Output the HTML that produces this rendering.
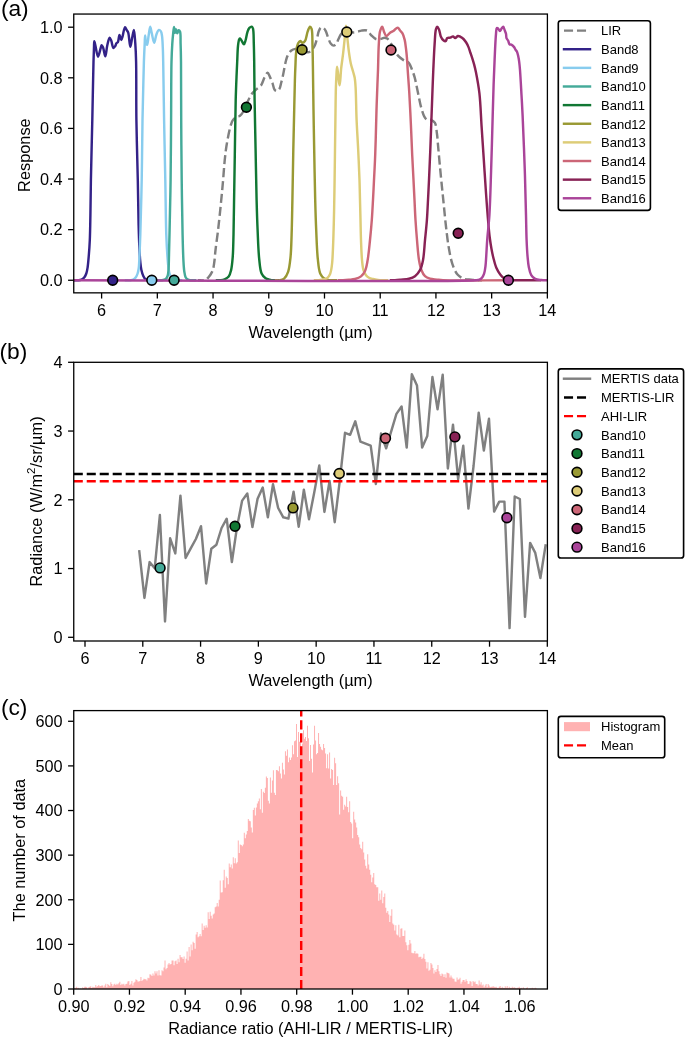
<!DOCTYPE html>
<html><head><meta charset="utf-8"><title>Figure</title>
<style>html,body{margin:0;padding:0;background:#fff;}body{width:685px;height:1038px;overflow:hidden;}svg{display:block;will-change:transform;}
text{font-family:"Liberation Sans",sans-serif;}</style></head>
<body>
<svg width="685" height="1038" viewBox="0 0 685 1038" font-family="'Liberation Sans', sans-serif" fill="#000"><rect width="100%" height="100%" fill="#fff"/><defs>
<clipPath id="clipA"><rect x="73.75" y="14.05" width="473.65" height="278.8"/></clipPath>
<clipPath id="clipB"><rect x="73.75" y="362.3" width="473.65" height="278.7"/></clipPath>
<clipPath id="clipC"><rect x="73.75" y="710.6" width="473.65" height="278.4"/></clipPath>
</defs>
<g clip-path="url(#clipA)">
<path d="M198,280.25 C200,280.25 202.45,280.51 204,280.25 C205.03,280.08 205.79,279.85 206.5,279.4 C207.18,278.96 207.6,278.3 208.2,277.6 C208.95,276.72 209.87,275.66 210.6,274.5 C211.41,273.22 212.22,271.91 212.8,270.2 C213.56,267.95 213.88,265 214.3,262 C214.81,258.41 214.98,254.67 215.5,250.1 C216.21,243.88 217.41,235.72 218.3,228.1 C219.25,219.89 220.2,210.52 221,202.5 C221.71,195.4 222.3,189.25 222.9,182.4 C223.53,175.23 224.03,166.98 224.7,160.4 C225.25,155.03 225.74,150.66 226.5,145.8 C227.27,140.9 228.42,135.02 229.3,131.1 C229.89,128.45 230.33,126.45 231,124.5 C231.56,122.86 231.97,121.36 232.9,120.1 C233.84,118.82 235.32,117.62 236.6,116.9 C237.7,116.28 238.93,116.56 240,115.8 C241.46,114.76 242.76,112.64 244,110.5 C245.6,107.73 246.8,103.34 248.3,100.3 C249.58,97.7 250.88,95.16 252.3,93.3 C253.41,91.84 254.49,91.01 255.8,89.8 C257.34,88.39 259.59,87.28 261,85.4 C262.58,83.29 263.28,79.77 264.5,77.5 C265.5,75.66 266.68,72.67 267.6,72.7 C268.42,72.72 269.08,75.13 269.8,76.6 C270.68,78.41 271.61,80.65 272.4,82.8 C273.22,85.04 273.55,88.47 274.6,89.8 C275.22,90.58 276.06,91.16 276.8,91.1 C277.66,91.03 278.71,89.95 279.4,88.9 C280.34,87.46 280.63,84.91 281.2,82.8 C281.8,80.55 282.38,78.2 282.9,75.8 C283.45,73.28 283.88,70.57 284.4,68 C284.91,65.47 285.41,62.68 286,60.5 C286.47,58.77 286.75,57.43 287.5,55.9 C288.35,54.16 289.56,51.88 291,50.7 C292.26,49.68 293.89,49.08 295.4,48.9 C296.89,48.72 298.54,49.2 300,49.6 C301.4,49.98 302.66,50.76 304,51.2 C305.29,51.62 306.74,52.25 307.9,52.2 C308.86,52.16 309.72,51.81 310.5,51.3 C311.37,50.73 312.1,49.75 312.8,48.8 C313.58,47.75 314.26,46.64 314.9,45.2 C315.75,43.27 316.45,40.47 317.1,38.1 C317.74,35.77 318,32.98 318.8,31.1 C319.4,29.67 320.07,28 321,27.6 C321.74,27.28 322.85,27.62 323.6,28.1 C324.49,28.66 325.14,29.86 325.8,31.1 C326.67,32.75 327.19,35.26 328,37.3 C328.82,39.36 329.55,41.97 330.7,43.4 C331.56,44.47 332.73,45.59 333.7,45.6 C334.59,45.61 335.56,44.68 336.3,43.8 C337.25,42.66 337.71,40.62 338.5,39 C339.33,37.29 340.09,34.93 341.2,33.8 C342.02,32.97 343.02,32.6 344,32.3 C344.96,32.01 345.93,32.01 347,32 C348.24,31.98 349.71,32.21 351,32.3 C352.21,32.38 353.34,32.61 354.5,32.5 C355.68,32.39 356.84,31.92 358,31.6 C359.14,31.28 360.1,30.79 361.4,30.6 C363.06,30.36 365.56,29.85 367.2,30.6 C368.93,31.39 369.91,34.06 371.4,35.5 C372.79,36.84 374.43,38.47 375.8,39 C376.75,39.37 377.55,39.25 378.5,39.2 C379.57,39.15 380.85,38.85 381.9,38.6 C382.83,38.38 383.62,37.8 384.5,37.8 C385.39,37.8 386.3,37.98 387.2,38.6 C388.63,39.59 390.2,42.31 391.5,44.3 C392.8,46.3 393.84,48.6 395,50.6 C396.07,52.45 396.83,54.34 398.2,55.9 C399.63,57.53 401.67,58.93 403.5,60.1 C405.21,61.2 407.42,61.37 408.8,62.8 C410.36,64.42 411.04,67.34 412,69.7 C412.98,72.1 413.85,74.46 414.6,77.1 C415.44,80.05 416,83.34 416.7,86.6 C417.44,90.03 418.17,93.76 418.9,97.2 C419.6,100.48 420.12,103.63 421,106.8 C421.89,110 422.96,114.05 424.2,116.3 C425,117.74 425.68,118.88 426.8,119.5 C427.94,120.13 429.69,119.5 431,120 C432.37,120.53 433.85,121.24 434.8,122.7 C436.24,124.93 436.37,129.67 436.9,133.3 C437.45,137.09 437.61,140.75 438,145 C438.47,150.07 438.95,155.77 439.5,161.7 C440.13,168.46 440.88,176.17 441.6,183.4 C442.32,190.63 443.07,197.88 443.8,205.1 C444.53,212.31 445.15,219.5 446,226.7 C446.85,233.93 447.71,241.75 448.9,248.4 C449.93,254.14 450.87,259.67 452.5,264.3 C453.86,268.17 455.31,272.01 457.5,274.5 C459.31,276.56 461.66,277.94 464,278.8 C466.27,279.64 469.13,279.44 471.3,279.7 C473.04,279.91 474.33,280.15 476,280.25 C477.88,280.36 480,280.25 482,280.25" fill="none" stroke="#808080" stroke-width="2.44" stroke-linejoin="round" stroke-dasharray="9.06,3.92" stroke-linecap="butt" stroke-dashoffset="3.29"/>
<path d="M71.75,280.25 C74,280.25 76.71,280.44 78.5,280.25 C79.71,280.12 80.57,280.03 81.5,279.6 C82.48,279.14 83.44,278.41 84.2,277.5 C85.08,276.45 85.75,275.01 86.3,273.5 C86.94,271.74 87.23,269.86 87.6,267.5 C88.12,264.2 88.45,259.75 88.8,255.5 C89.2,250.71 89.54,245.94 89.8,240.2 C90.13,232.85 90.23,224.09 90.4,215 C90.6,204.29 90.65,193.23 90.9,180 C91.23,162.68 91.92,137.32 92.3,120 C92.59,106.77 92.78,95.47 93,85 C93.18,76.47 93.31,68.67 93.5,61.8 C93.65,56.31 93.84,50.78 94,47 C94.1,44.65 94.03,41.33 94.3,41.3 C94.55,41.28 95.04,44.11 95.5,46 C96.19,48.84 97.09,56.67 98,56.7 C98.81,56.73 99.94,50.52 100.6,48.4 C101.01,47.08 101.15,45.27 101.6,45.2 C101.98,45.14 102.56,46.24 103,47.2 C103.86,49.09 104.61,56.32 105.3,56.3 C106.06,56.27 106.5,48.52 107.3,45.2 C107.97,42.43 108.79,37.79 109.6,37.7 C110.12,37.64 110.69,39.3 111.2,40.5 C111.99,42.36 112.46,47.77 113.4,48 C113.96,48.14 114.8,46.77 115.3,46 C115.81,45.21 115.9,43.98 116.4,43.3 C116.81,42.75 117.48,42.78 117.9,42.1 C118.72,40.78 118.88,35.04 119.5,35 C120.04,34.97 120.75,40.11 121.3,40.1 C121.81,40.09 122.2,37.49 122.7,35.8 C123.4,33.41 124.16,27.21 125,27.1 C125.51,27.03 126.06,28.98 126.6,29.9 C127.13,30.81 127.73,31.28 128.2,32.6 C129.2,35.42 129.56,46.78 130.3,46.8 C130.88,46.82 131.49,40.96 132.1,38.1 C132.69,35.32 133.4,29.87 133.9,29.9 C134.54,29.94 134.94,38.78 135.3,43.7 C135.71,49.32 135.91,54.05 136.1,61.8 C136.44,75.69 136.12,100.45 136.4,120 C136.68,139.85 137.42,161.44 137.8,180 C138.13,196.08 138.26,212.19 138.6,225 C138.86,234.55 139.15,243.18 139.5,250 C139.74,254.73 139.93,258.41 140.3,262 C140.6,264.94 140.84,267.56 141.4,270 C141.89,272.14 142.54,274.29 143.3,275.9 C143.89,277.14 144.45,278.3 145.3,279 C146.06,279.63 147.15,279.9 148,280.1 C148.7,280.27 149.18,280.22 150,280.25 C151.29,280.3 153.33,280.25 155,280.25" fill="none" stroke="#332288" stroke-width="2.44" stroke-linejoin="round" stroke-linecap="square"/>
<path d="M126,280.25 C127.5,280.25 129.1,280.49 130.5,280.25 C131.79,280.03 133.13,279.62 134.1,279 C134.94,278.46 135.54,277.74 136.1,276.9 C136.74,275.95 137.19,274.77 137.6,273.5 C138.09,272.01 138.41,270.57 138.7,268.5 C139.16,265.18 139.26,260.25 139.5,255.4 C139.8,249.35 140.03,243.45 140.3,235 C140.75,221.12 141.34,198.73 141.7,180 C142.08,160.44 142.19,137.32 142.5,120 C142.74,106.77 143.04,95.47 143.3,85 C143.51,76.47 143.65,69.06 143.9,61.8 C144.12,55.36 144.47,48.47 144.7,43.6 C144.85,40.33 144.85,35.41 145.1,35.4 C145.35,35.39 145.56,42.4 146.2,43.8 C146.46,44.36 146.83,44.88 147.1,44.8 C147.8,44.59 148.09,38.81 148.6,35.8 C149.12,32.77 149.62,26.72 150.2,26.7 C150.7,26.68 151.2,30.97 151.8,33.4 C152.51,36.29 153.4,42.9 154.2,42.9 C154.97,42.9 155.55,36.55 156.5,34.2 C157.2,32.46 158.02,30.09 158.9,29.9 C159.53,29.77 160.4,30.65 160.9,31.4 C161.57,32.41 161.71,33.96 162,35.8 C162.47,38.77 162.6,43.48 162.8,47.6 C163.02,52.11 163.06,55.46 163.2,61.8 C163.48,74.63 163.75,100.45 164.1,120 C164.45,139.85 164.93,160.43 165.3,180 C165.66,198.73 165.81,221 166.3,235 C166.61,243.66 166.97,249.98 167.4,256 C167.73,260.56 168.01,264.62 168.5,268 C168.86,270.51 169.1,272.73 169.8,274.5 C170.34,275.87 171.06,276.99 171.9,277.9 C172.65,278.71 173.6,279.41 174.5,279.8 C175.3,280.14 176.07,280.17 177,280.25 C178.17,280.35 179.67,280.25 181,280.25" fill="none" stroke="#88CCEE" stroke-width="2.44" stroke-linejoin="round" stroke-linecap="square"/>
<path d="M158,280.25 C159.33,280.25 160.7,280.46 162,280.25 C163.3,280.04 164.86,279.75 165.8,279 C166.68,278.29 167.16,277.22 167.6,276 C168.18,274.39 168.28,272.46 168.5,270 C168.85,266.13 168.84,260.64 169,255 C169.21,247.73 169.39,239.76 169.6,230 C169.9,216.19 170.35,197.43 170.6,180 C170.87,160.91 170.95,139.85 171.1,120 C171.25,100.45 171.15,75.71 171.5,61.8 C171.7,54.02 171.97,48.67 172.3,43.6 C172.54,39.95 172.79,37.12 173.1,34.2 C173.37,31.64 173.66,27.01 174,27 C174.3,26.99 174.62,32.78 175,32.8 C175.3,32.82 175.64,29.31 176,29.3 C176.4,29.29 176.84,33.38 177.3,33.4 C177.71,33.42 178.06,30.31 178.6,30.2 C179.01,30.12 179.64,30.8 180,31.6 C180.88,33.57 180.44,39.18 180.6,43.6 C180.8,49.04 180.9,54.02 181,61.8 C181.18,75.72 181.08,100.45 181.2,120 C181.32,139.85 181.46,160.44 181.7,180 C181.93,198.73 182.24,220.24 182.6,235 C182.84,244.96 183.03,253.27 183.4,260 C183.65,264.57 183.82,268.35 184.3,271.5 C184.64,273.74 184.89,275.8 185.6,277.2 C186.1,278.18 186.7,278.89 187.5,279.4 C188.32,279.93 189.39,280.1 190.5,280.25 C191.84,280.44 193.5,280.25 195,280.25" fill="none" stroke="#44AA99" stroke-width="2.44" stroke-linejoin="round" stroke-linecap="square"/>
<path d="M217,280.25 C218.33,280.25 219.71,280.42 221,280.25 C222.24,280.09 223.4,279.83 224.6,279.3 C225.97,278.69 227.65,277.92 228.7,276.6 C229.95,275.03 230.47,272.67 231.1,270.1 C231.96,266.59 232.31,262.16 232.7,257.3 C233.21,250.9 233.29,242.98 233.5,235 C233.74,225.74 233.82,216.27 234,205 C234.24,190.45 234.52,172.06 234.8,155 C235.09,137.1 235.31,114.76 235.7,100 C235.96,90.04 236.31,82.01 236.6,75 C236.81,69.9 236.98,66.4 237.2,61.8 C237.44,56.77 237.53,50.14 238,46 C238.31,43.28 238.58,40.41 239.2,39.3 C239.46,38.83 239.77,38.46 240.1,38.5 C240.65,38.57 241.38,40.34 242,41.3 C242.65,42.3 243.33,44.45 243.9,44.4 C244.51,44.35 245,42.08 245.5,40.5 C246.23,38.2 246.69,34.09 247.5,31.8 C248.06,30.2 248.55,28.76 249.4,27.9 C250.07,27.23 251.19,26.52 251.8,26.7 C252.37,26.87 252.68,27.67 253,28.7 C253.8,31.32 253.6,38.38 253.8,43.6 C254.02,49.36 254.08,54.62 254.2,61.8 C254.37,72.2 254.39,86.41 254.6,100 C254.84,115.55 255.27,133.33 255.6,150 C255.93,166.67 256.21,185.45 256.6,200 C256.9,211.27 257.16,220.1 257.6,230 C258.03,239.73 258.32,250.93 259.2,258.9 C259.83,264.58 260.05,270.01 261.6,273.4 C262.61,275.61 264.11,277.17 265.6,278.2 C266.83,279.05 268.31,279.25 269.6,279.6 C270.77,279.91 271.75,280.13 273,280.25 C274.5,280.39 276.33,280.25 278,280.25" fill="none" stroke="#117733" stroke-width="2.44" stroke-linejoin="round" stroke-linecap="square"/>
<path d="M276,280.25 C277.33,280.25 278.68,280.51 280,280.25 C281.38,279.98 282.89,279.64 284.1,278.6 C285.72,277.21 287.08,274.61 288.1,271.8 C289.49,267.97 289.93,262.67 290.5,257.3 C291.21,250.68 291.3,243.27 291.6,235 C291.97,224.64 292.14,212.7 292.4,200 C292.71,184.82 292.98,165.74 293.3,150 C293.59,135.92 293.92,122.38 294.2,110 C294.45,99.28 294.66,88.05 294.9,80 C295.06,74.58 295.18,71.09 295.4,66.4 C295.64,61.35 295.68,54.89 296.3,50.7 C296.72,47.85 297.13,45.31 298,43.6 C298.59,42.43 299.43,41.07 300.2,41 C300.9,40.94 301.62,42.77 302.4,42.8 C303.22,42.83 304.26,42.03 305,41 C306.31,39.17 306.71,34.02 307.7,31.4 C308.42,29.49 309.25,26.67 310,26.6 C310.54,26.55 311.18,27.62 311.6,28.8 C312.66,31.78 312.28,40.26 312.5,46.3 C312.73,52.77 312.77,58.42 312.9,66.4 C313.1,78.15 313.28,95.78 313.5,110 C313.71,123.62 313.94,135.92 314.2,150 C314.5,165.74 314.81,185.45 315.2,200 C315.5,211.27 315.76,220.1 316.2,230 C316.63,239.73 316.92,250.93 317.8,258.9 C318.43,264.58 318.67,269.96 320.2,273.4 C321.21,275.67 322.73,277.31 324.2,278.4 C325.38,279.27 326.79,279.6 328,279.9 C329.04,280.16 329.87,280.18 331,280.25 C332.45,280.33 334.33,280.25 336,280.25" fill="none" stroke="#999933" stroke-width="2.44" stroke-linejoin="round" stroke-linecap="square"/>
<path d="M315,280.25 C316.33,280.25 317.6,280.38 319,280.25 C320.58,280.1 322.56,279.7 324,279.3 C325.14,278.98 326.09,278.88 327,278.2 C328.14,277.35 329.23,275.91 330,274.2 C331.05,271.89 331.43,268.61 331.9,265.2 C332.5,260.81 332.63,255.42 332.9,250 C333.21,243.79 333.4,236.67 333.6,230 C333.8,223.33 333.95,217.34 334.1,210 C334.29,201.01 334.45,190 334.6,180 C334.75,170 334.87,160 335,150 C335.13,140 335.25,130.21 335.4,120 C335.55,109.36 335.64,95.89 335.9,87.4 C336.06,81.96 336.26,77.79 336.5,74 C336.68,71.2 336.83,66.71 337.1,66.7 C337.39,66.69 337.89,72.4 338.2,75 C338.48,77.3 338.6,79.64 338.9,81.5 C339.13,82.91 339.44,85.22 339.7,85.2 C340.25,85.17 340.6,73.64 341.2,68.2 C341.75,63.17 342.53,58.53 343.1,53.7 C343.66,48.9 344.11,44.02 344.6,39.3 C345.08,34.73 345.52,25.8 346,25.8 C346.48,25.8 347.01,34.89 347.5,39.3 C347.97,43.55 348.34,47.72 348.9,51.8 C349.44,55.75 350.01,59.84 350.8,63.4 C351.48,66.5 352.5,69.41 353.2,72 C353.77,74.12 354.32,75.61 354.7,77.8 C355.19,80.58 355.34,83.25 355.6,87.4 C356.07,95.04 356.15,109.36 356.6,120 C357.03,130.21 357.72,140 358.2,150 C358.68,160 359.19,171.01 359.5,180 C359.75,187.34 359.83,193.33 360,200 C360.17,206.67 360.33,213.33 360.5,220 C360.67,226.67 360.75,233.33 361,240 C361.25,246.67 361.46,254.46 362,260 C362.39,263.98 362.64,267.45 363.5,270.2 C364.14,272.22 364.97,273.9 366,275.2 C366.86,276.29 367.86,277.07 369,277.7 C370.18,278.35 371.58,278.64 373,279 C374.56,279.39 376.42,279.69 378,279.9 C379.4,280.09 380.59,280.19 382,280.25 C383.57,280.32 385.33,280.25 387,280.25" fill="none" stroke="#DDCC77" stroke-width="2.44" stroke-linejoin="round" stroke-linecap="square"/>
<path d="M339,280.25 C340.33,280.25 341.53,280.3 343,280.25 C344.8,280.18 347,280.01 349,279.8 C351,279.59 353.04,279.54 355,279 C357.04,278.43 359.34,277.72 361,276.4 C362.68,275.06 363.96,273.2 365,271 C366.29,268.28 366.77,264.97 367.5,261 C368.55,255.31 369.28,246.92 370,240 C370.7,233.26 371.3,226.67 371.8,220 C372.3,213.34 372.63,206.67 373,200 C373.37,193.33 373.67,186.67 374,180 C374.33,173.33 374.72,166.67 375,160 C375.28,153.33 375.47,147.34 375.7,140 C375.98,131.01 376.2,119.54 376.5,110 C376.77,101.29 377.12,92.27 377.4,85 C377.61,79.36 377.8,75.67 378,70 C378.26,62.58 378.34,51.45 378.8,44.3 C379.13,39.17 379.18,34.24 380.1,31.1 C380.66,29.21 381.65,26.75 382.3,26.8 C382.99,26.85 383.39,30.41 384.1,32 C384.74,33.45 385.36,35.84 386.3,36 C387.25,36.17 388.58,33.74 389.8,32.9 C390.92,32.13 392.11,31.87 393.3,31.1 C394.73,30.18 396.53,27.47 397.7,27.6 C398.62,27.7 399.13,29.38 399.9,30.3 C400.72,31.28 401.77,32.02 402.5,33.3 C403.47,35 404.13,37.52 404.7,39.9 C405.34,42.6 405.63,45.77 406,48.7 C406.36,51.6 406.64,54.23 406.9,57.4 C407.22,61.21 407.38,65.17 407.7,70 C408.13,76.52 408.8,84.71 409.3,93 C409.88,102.74 410.41,114.34 410.9,124.8 C411.38,135 411.74,145.41 412.2,155 C412.61,163.73 413.1,172.13 413.5,180 C413.86,187.04 414.17,193.33 414.5,200 C414.83,206.67 415.08,213.34 415.5,220 C415.92,226.67 416.42,233.34 417,240 C417.58,246.67 418.05,254.47 419,260 C419.69,264 420.34,267.32 421.5,270.2 C422.45,272.54 423.47,274.76 425,276.2 C426.37,277.49 428.14,278.13 430,278.7 C432.09,279.34 434.76,279.33 437,279.6 C439.08,279.85 439.9,280.08 443,280.25 C453.47,280.82 489,280.25 512,280.25" fill="none" stroke="#CC6677" stroke-width="2.44" stroke-linejoin="round" stroke-linecap="square"/>
<path d="M391,280.25 C392.33,280.25 393.53,280.32 395,280.25 C396.8,280.17 398.86,279.93 401,279.7 C403.48,279.43 406.56,279.35 409,278.7 C411.19,278.12 413.23,277.51 415,276.2 C416.94,274.77 418.71,272.61 420,270.2 C421.5,267.41 422.22,264.15 423,260.2 C424.09,254.7 424.35,246.79 425,240.1 C425.65,233.43 426.4,226.78 426.9,220.1 C427.4,213.41 427.65,206.69 428,200 C428.35,193.33 428.66,187.34 429,180 C429.42,171.01 429.88,160.44 430.3,150 C430.75,138.59 431.2,124.97 431.6,114.2 C431.93,105.35 432.2,97.68 432.5,90 C432.77,83.02 432.98,77.08 433.3,70 C433.66,61.97 434.09,51.7 434.6,44.3 C434.99,38.66 435.13,32.29 435.9,29.4 C436.24,28.14 436.6,26.85 437.1,26.8 C437.63,26.75 438.46,28.26 439,29.4 C439.81,31.11 439.94,34.46 440.8,36.4 C441.5,37.96 442.44,39.51 443.4,40.3 C444.09,40.86 444.99,41.42 445.6,41.2 C446.35,40.94 446.46,38.67 447.3,38.1 C448.09,37.56 449.44,37.99 450.4,37.7 C451.33,37.42 452.19,36.32 453,36.4 C453.79,36.48 454.44,38.11 455.2,38.1 C456.03,38.09 456.87,36.18 457.8,36 C458.65,35.83 459.61,36.36 460.5,36.8 C461.52,37.31 462.58,38.11 463.5,39 C464.5,39.98 465.4,41.22 466.2,42.5 C467.04,43.85 467.72,45.29 468.4,46.9 C469.17,48.74 469.83,51.04 470.5,53 C471.13,54.83 471.72,56.47 472.3,58.3 C472.92,60.26 473.53,62.25 474.1,64.4 C474.73,66.79 475.26,68.82 475.9,72 C476.96,77.28 478.49,85.31 479.4,93.2 C480.53,103.03 480.87,115.41 481.6,126.5 C482.33,137.58 483.07,148.62 483.8,159.7 C484.53,170.79 485.24,182.29 486,193 C486.71,203 487.48,213.76 488.2,222 C488.74,228.12 489.19,233.17 489.8,238 C490.31,242.02 490.87,245.58 491.5,249 C492.05,252.02 492.56,254.57 493.3,257.5 C494.1,260.71 494.92,264.51 496.2,267.5 C497.35,270.18 498.86,272.75 500.4,274.7 C501.67,276.31 502.99,277.71 504.5,278.6 C505.88,279.41 507.64,279.73 509,280 C510.09,280.21 510.49,280.19 512,280.25 C516.6,280.44 530.67,280.25 540,280.25" fill="none" stroke="#882255" stroke-width="2.44" stroke-linejoin="round" stroke-linecap="square"/>
<path d="M71.75,280.25 C206.5,280.25 453.07,282.36 476,280.25 C478.15,280.05 478.47,280.04 479.5,279.6 C480.45,279.19 481.28,278.63 482,277.8 C482.88,276.78 483.55,275.33 484.1,273.7 C484.82,271.58 485.14,268.81 485.5,266 C485.92,262.67 486.04,258.95 486.3,255 C486.61,250.39 486.78,245.63 487.2,240 C487.74,232.74 488.8,224.6 489.4,215.1 C490.2,202.45 490.58,186.39 491.1,170.8 C491.69,153.37 492.24,131.12 492.7,115.4 C493.04,103.76 493.31,93.36 493.6,85 C493.8,79.13 493.98,75.44 494.2,70 C494.47,63.52 494.77,55.17 495.1,48.7 C495.38,43.29 495.62,37.59 496,33.8 C496.24,31.45 496.11,28.54 496.8,28.1 C497.13,27.89 497.68,28.19 498.1,28.5 C498.74,28.97 499.31,31.11 499.9,31.1 C500.48,31.09 501.01,29.25 501.6,28.5 C502.11,27.85 502.73,26.72 503.2,26.8 C503.8,26.91 504.23,29.13 504.7,30.3 C505.16,31.46 505.7,32.55 506,33.8 C506.32,35.14 506.07,36.87 506.5,38.1 C506.87,39.15 507.71,39.81 508.2,40.8 C508.73,41.87 508.82,43.71 509.5,44.3 C509.98,44.72 510.68,44.39 511.3,44.7 C512.14,45.12 513.17,46.03 513.9,46.9 C514.65,47.79 515.12,49.14 515.7,50 C516.15,50.67 516.63,50.94 517,51.7 C517.57,52.86 517.94,54.85 518.3,56.5 C518.68,58.21 518.94,59.84 519.2,61.8 C519.52,64.23 519.73,66.52 520,70 C520.48,76.07 521.05,87.09 521.5,95 C521.91,102.14 522.2,106.93 522.6,115.4 C523.25,129.35 524.22,153.37 524.8,170.8 C525.32,186.36 525.68,202.35 526,215 C526.24,224.51 526.29,232.47 526.6,240 C526.86,246.21 527.16,252.09 527.6,257 C527.94,260.78 528.16,263.9 528.8,267 C529.37,269.79 529.87,272.73 531.1,274.8 C532.14,276.55 533.54,278.03 535.2,278.9 C536.92,279.8 539.51,279.78 541.3,280 C542.68,280.17 543.71,280.21 545,280.25 C546.4,280.3 547.93,280.25 549.4,280.25" fill="none" stroke="#AA4499" stroke-width="2.44" stroke-linejoin="round" stroke-linecap="square"/>
</g>
<circle cx="112.7" cy="280.25" r="4.88" fill="#332288" stroke="#000" stroke-width="1.62"/>
<circle cx="151.8" cy="280.25" r="4.88" fill="#88CCEE" stroke="#000" stroke-width="1.62"/>
<circle cx="174.1" cy="280.25" r="4.88" fill="#44AA99" stroke="#000" stroke-width="1.62"/>
<circle cx="246.4" cy="107.3" r="4.88" fill="#117733" stroke="#000" stroke-width="1.62"/>
<circle cx="302.1" cy="49.8" r="4.88" fill="#999933" stroke="#000" stroke-width="1.62"/>
<circle cx="346.8" cy="32" r="4.88" fill="#DDCC77" stroke="#000" stroke-width="1.62"/>
<circle cx="391" cy="50" r="4.88" fill="#CC6677" stroke="#000" stroke-width="1.62"/>
<circle cx="458.2" cy="233.2" r="4.88" fill="#882255" stroke="#000" stroke-width="1.62"/>
<circle cx="508.4" cy="280.25" r="4.88" fill="#AA4499" stroke="#000" stroke-width="1.62"/>
<rect x="73.75" y="14.05" width="473.65" height="278.8" fill="none" stroke="#000" stroke-width="1.3"/>
<line x1="68.06" y1="280.25" x2="73.75" y2="280.25" stroke="#000" stroke-width="1.3"/>
<text x="62.57" y="286" font-size="16.25" text-anchor="end">0.0</text>
<line x1="68.06" y1="229.64" x2="73.75" y2="229.64" stroke="#000" stroke-width="1.3"/>
<text x="62.57" y="235.39" font-size="16.25" text-anchor="end">0.2</text>
<line x1="68.06" y1="179.03" x2="73.75" y2="179.03" stroke="#000" stroke-width="1.3"/>
<text x="62.57" y="184.78" font-size="16.25" text-anchor="end">0.4</text>
<line x1="68.06" y1="128.42" x2="73.75" y2="128.42" stroke="#000" stroke-width="1.3"/>
<text x="62.57" y="134.17" font-size="16.25" text-anchor="end">0.6</text>
<line x1="68.06" y1="77.81" x2="73.75" y2="77.81" stroke="#000" stroke-width="1.3"/>
<text x="62.57" y="83.56" font-size="16.25" text-anchor="end">0.8</text>
<line x1="68.06" y1="27.2" x2="73.75" y2="27.2" stroke="#000" stroke-width="1.3"/>
<text x="62.57" y="32.95" font-size="16.25" text-anchor="end">1.0</text>
<line x1="101.61" y1="292.85" x2="101.61" y2="298.54" stroke="#000" stroke-width="1.3"/>
<text x="101.61" y="315.95" font-size="16.25" text-anchor="middle">6</text>
<line x1="157.33" y1="292.85" x2="157.33" y2="298.54" stroke="#000" stroke-width="1.3"/>
<text x="157.33" y="315.95" font-size="16.25" text-anchor="middle">7</text>
<line x1="213.05" y1="292.85" x2="213.05" y2="298.54" stroke="#000" stroke-width="1.3"/>
<text x="213.05" y="315.95" font-size="16.25" text-anchor="middle">8</text>
<line x1="268.77" y1="292.85" x2="268.77" y2="298.54" stroke="#000" stroke-width="1.3"/>
<text x="268.77" y="315.95" font-size="16.25" text-anchor="middle">9</text>
<line x1="324.49" y1="292.85" x2="324.49" y2="298.54" stroke="#000" stroke-width="1.3"/>
<text x="324.49" y="315.95" font-size="16.25" text-anchor="middle">10</text>
<line x1="380.21" y1="292.85" x2="380.21" y2="298.54" stroke="#000" stroke-width="1.3"/>
<text x="380.21" y="315.95" font-size="16.25" text-anchor="middle">11</text>
<line x1="435.93" y1="292.85" x2="435.93" y2="298.54" stroke="#000" stroke-width="1.3"/>
<text x="435.93" y="315.95" font-size="16.25" text-anchor="middle">12</text>
<line x1="491.65" y1="292.85" x2="491.65" y2="298.54" stroke="#000" stroke-width="1.3"/>
<text x="491.65" y="315.95" font-size="16.25" text-anchor="middle">13</text>
<line x1="547.37" y1="292.85" x2="547.37" y2="298.54" stroke="#000" stroke-width="1.3"/>
<text x="547.37" y="315.95" font-size="16.25" text-anchor="middle">14</text>
<text x="310.55" y="337.5" font-size="16.35" text-anchor="middle">Wavelength (µm)</text>
<text x="0" y="0" font-size="16.35" text-anchor="middle" transform="translate(30.4,155.1) rotate(-90)">Response</text>
<text x="0.9" y="16.1" font-size="22.75" text-anchor="start">(a)</text>
<rect x="558.3" y="20.7" width="92.1" height="189.7" rx="2.6" ry="2.6" fill="#fff" stroke="#000" stroke-width="1.625"/>
<line x1="564" y1="30.6" x2="590" y2="30.6" stroke="#808080" stroke-width="2.44" stroke-dasharray="9.06,3.92"/>
<text x="601" y="35.35" font-size="13" text-anchor="start">LIR</text>
<line x1="564" y1="49.23" x2="590" y2="49.23" stroke="#332288" stroke-width="2.44" stroke-linecap="square"/>
<text x="601" y="53.98" font-size="13" text-anchor="start">Band8</text>
<line x1="564" y1="67.86" x2="590" y2="67.86" stroke="#88CCEE" stroke-width="2.44" stroke-linecap="square"/>
<text x="601" y="72.61" font-size="13" text-anchor="start">Band9</text>
<line x1="564" y1="86.49" x2="590" y2="86.49" stroke="#44AA99" stroke-width="2.44" stroke-linecap="square"/>
<text x="601" y="91.24" font-size="13" text-anchor="start">Band10</text>
<line x1="564" y1="105.12" x2="590" y2="105.12" stroke="#117733" stroke-width="2.44" stroke-linecap="square"/>
<text x="601" y="109.87" font-size="13" text-anchor="start">Band11</text>
<line x1="564" y1="123.75" x2="590" y2="123.75" stroke="#999933" stroke-width="2.44" stroke-linecap="square"/>
<text x="601" y="128.5" font-size="13" text-anchor="start">Band12</text>
<line x1="564" y1="142.38" x2="590" y2="142.38" stroke="#DDCC77" stroke-width="2.44" stroke-linecap="square"/>
<text x="601" y="147.13" font-size="13" text-anchor="start">Band13</text>
<line x1="564" y1="161.01" x2="590" y2="161.01" stroke="#CC6677" stroke-width="2.44" stroke-linecap="square"/>
<text x="601" y="165.76" font-size="13" text-anchor="start">Band14</text>
<line x1="564" y1="179.64" x2="590" y2="179.64" stroke="#882255" stroke-width="2.44" stroke-linecap="square"/>
<text x="601" y="184.39" font-size="13" text-anchor="start">Band15</text>
<line x1="564" y1="198.27" x2="590" y2="198.27" stroke="#AA4499" stroke-width="2.44" stroke-linecap="square"/>
<text x="601" y="203.02" font-size="13" text-anchor="start">Band16</text>
<g clip-path="url(#clipB)">
<path d="M139.3,551.3 L144.44,597.9 L149.59,562.1 L154.73,568.2 L159.87,515 L165.01,621.5 L170.16,538.3 L175.3,553.4 L180.44,495.6 L185.58,558 L190.73,548.4 L195.87,539 L201.01,526.2 L206.15,583.5 L211.3,548.8 L216.44,544.7 L221.58,528 L226.72,518.7 L231.87,562.1 L237.01,527 L242.15,500.6 L247.29,493.5 L252.44,527 L257.58,498.7 L262.72,487.5 L267.86,517.2 L273,484.3 L278.15,508 L283.29,517.3 L288.43,518.6 L293.58,491.7 L298.72,526.7 L303.86,489.7 L309,519.3 L314.14,493 L319.29,465.4 L324.43,511.9 L329.57,480.9 L334.72,522.2 L339.86,480 L345,432.8 L350.14,434.8 L355.29,421.3 L360.43,441.6 L365.57,443.6 L370.71,445.6 L375.86,484 L381,433.5 L386.14,448.3 L391.28,431.1 L396.43,413.9 L401.57,406.5 L406.71,447.6 L411.85,374.2 L417,385.6 L422.14,447.6 L427.28,436 L432.42,377 L437.56,409.2 L442.71,374.8 L447.85,468.5 L452.99,424.7 L458.13,479.3 L463.28,445.8 L468.42,508.6 L473.56,466 L478.71,412.6 L483.85,450.5 L488.99,418.8 L494.13,511.6 L499.28,501.6 L504.42,501.6 L509.56,628.1 L514.7,496.5 L519.85,499 L524.99,616.8 L530.13,542.9 L535.27,552.9 L540.41,578 L545.56,545.4" fill="none" stroke="#808080" stroke-width="2.44" stroke-linejoin="round" stroke-linecap="square"/>
<line x1="73.75" y1="474.0" x2="547.4" y2="474.0" stroke="#000" stroke-width="2.44" stroke-dasharray="9.06,3.92"/>
<line x1="73.75" y1="481.2" x2="547.4" y2="481.2" stroke="#f00" stroke-width="2.44" stroke-dasharray="9.06,3.92"/>
</g>
<circle cx="160.1" cy="567.9" r="4.88" fill="#44AA99" stroke="#000" stroke-width="1.62"/>
<circle cx="235" cy="526.2" r="4.88" fill="#117733" stroke="#000" stroke-width="1.62"/>
<circle cx="293" cy="507.9" r="4.88" fill="#999933" stroke="#000" stroke-width="1.62"/>
<circle cx="339.3" cy="473.5" r="4.88" fill="#DDCC77" stroke="#000" stroke-width="1.62"/>
<circle cx="385.5" cy="438.2" r="4.88" fill="#CC6677" stroke="#000" stroke-width="1.62"/>
<circle cx="454.9" cy="436.9" r="4.88" fill="#882255" stroke="#000" stroke-width="1.62"/>
<circle cx="506.9" cy="517.8" r="4.88" fill="#AA4499" stroke="#000" stroke-width="1.62"/>
<rect x="73.75" y="362.3" width="473.65" height="278.7" fill="none" stroke="#000" stroke-width="1.3"/>
<line x1="68.06" y1="637.3" x2="73.75" y2="637.3" stroke="#000" stroke-width="1.3"/>
<text x="62.57" y="643.05" font-size="16.25" text-anchor="end">0</text>
<line x1="68.06" y1="568.55" x2="73.75" y2="568.55" stroke="#000" stroke-width="1.3"/>
<text x="62.57" y="574.3" font-size="16.25" text-anchor="end">1</text>
<line x1="68.06" y1="499.8" x2="73.75" y2="499.8" stroke="#000" stroke-width="1.3"/>
<text x="62.57" y="505.55" font-size="16.25" text-anchor="end">2</text>
<line x1="68.06" y1="431.05" x2="73.75" y2="431.05" stroke="#000" stroke-width="1.3"/>
<text x="62.57" y="436.8" font-size="16.25" text-anchor="end">3</text>
<line x1="68.06" y1="362.3" x2="73.75" y2="362.3" stroke="#000" stroke-width="1.3"/>
<text x="62.57" y="368.05" font-size="16.25" text-anchor="end">4</text>
<line x1="85" y1="641" x2="85" y2="646.69" stroke="#000" stroke-width="1.3"/>
<text x="85" y="664.1" font-size="16.25" text-anchor="middle">6</text>
<line x1="142.79" y1="641" x2="142.79" y2="646.69" stroke="#000" stroke-width="1.3"/>
<text x="142.79" y="664.1" font-size="16.25" text-anchor="middle">7</text>
<line x1="200.58" y1="641" x2="200.58" y2="646.69" stroke="#000" stroke-width="1.3"/>
<text x="200.58" y="664.1" font-size="16.25" text-anchor="middle">8</text>
<line x1="258.37" y1="641" x2="258.37" y2="646.69" stroke="#000" stroke-width="1.3"/>
<text x="258.37" y="664.1" font-size="16.25" text-anchor="middle">9</text>
<line x1="316.16" y1="641" x2="316.16" y2="646.69" stroke="#000" stroke-width="1.3"/>
<text x="316.16" y="664.1" font-size="16.25" text-anchor="middle">10</text>
<line x1="373.95" y1="641" x2="373.95" y2="646.69" stroke="#000" stroke-width="1.3"/>
<text x="373.95" y="664.1" font-size="16.25" text-anchor="middle">11</text>
<line x1="431.74" y1="641" x2="431.74" y2="646.69" stroke="#000" stroke-width="1.3"/>
<text x="431.74" y="664.1" font-size="16.25" text-anchor="middle">12</text>
<line x1="489.53" y1="641" x2="489.53" y2="646.69" stroke="#000" stroke-width="1.3"/>
<text x="489.53" y="664.1" font-size="16.25" text-anchor="middle">13</text>
<line x1="547.32" y1="641" x2="547.32" y2="646.69" stroke="#000" stroke-width="1.3"/>
<text x="547.32" y="664.1" font-size="16.25" text-anchor="middle">14</text>
<text x="310.55" y="685.6" font-size="16.35" text-anchor="middle">Wavelength (µm)</text>
<text x="0" y="0" font-size="16.35" text-anchor="middle" transform="translate(41.9,501.5) rotate(-90)">Radiance (W/m<tspan font-size="11.5" dy="-6.8">2</tspan><tspan dy="6.8">/sr/µm)</tspan></text>
<text x="-0.5" y="359.4" font-size="22.75" text-anchor="start">(b)</text>
<rect x="558.3" y="368.9" width="125.3" height="189.1" rx="2.6" ry="2.6" fill="#fff" stroke="#000" stroke-width="1.625"/>
<line x1="564" y1="378.7" x2="590" y2="378.7" stroke="#808080" stroke-width="2.44" stroke-linecap="square"/>
<text x="601" y="383.45" font-size="13" text-anchor="start">MERTIS data</text>
<line x1="564" y1="397.42" x2="590" y2="397.42" stroke="#000" stroke-width="2.44" stroke-dasharray="9.06,3.92"/>
<text x="601" y="402.17" font-size="13" text-anchor="start">MERTIS-LIR</text>
<line x1="564" y1="416.14" x2="590" y2="416.14" stroke="#f00" stroke-width="2.44" stroke-dasharray="9.06,3.92"/>
<text x="601" y="420.89" font-size="13" text-anchor="start">AHI-LIR</text>
<circle cx="577" cy="434.86" r="4.88" fill="#44AA99" stroke="#000" stroke-width="1.62"/>
<text x="601" y="439.61" font-size="13" text-anchor="start">Band10</text>
<circle cx="577" cy="453.58" r="4.88" fill="#117733" stroke="#000" stroke-width="1.62"/>
<text x="601" y="458.33" font-size="13" text-anchor="start">Band11</text>
<circle cx="577" cy="472.3" r="4.88" fill="#999933" stroke="#000" stroke-width="1.62"/>
<text x="601" y="477.05" font-size="13" text-anchor="start">Band12</text>
<circle cx="577" cy="491.02" r="4.88" fill="#DDCC77" stroke="#000" stroke-width="1.62"/>
<text x="601" y="495.77" font-size="13" text-anchor="start">Band13</text>
<circle cx="577" cy="509.74" r="4.88" fill="#CC6677" stroke="#000" stroke-width="1.62"/>
<text x="601" y="514.49" font-size="13" text-anchor="start">Band14</text>
<circle cx="577" cy="528.46" r="4.88" fill="#882255" stroke="#000" stroke-width="1.62"/>
<text x="601" y="533.21" font-size="13" text-anchor="start">Band15</text>
<circle cx="577" cy="547.18" r="4.88" fill="#AA4499" stroke="#000" stroke-width="1.62"/>
<text x="601" y="551.93" font-size="13" text-anchor="start">Band16</text>
<g clip-path="url(#clipC)">
<path d="M61.16,989H62.16V988.11H61.16ZM62.16,989H63.16V988.11H62.16ZM63.16,989H64.17V988.55H63.16ZM64.17,989H65.17V988.55H64.17ZM65.17,989H66.17V988.55H65.17ZM66.17,989H67.18V988.55H66.17ZM67.18,989H68.18V988.11H67.18ZM68.18,989H69.18V987.22H68.18ZM69.18,989H70.19V988.11H69.18ZM70.19,989H71.19V988.11H70.19ZM71.19,989H72.19V987.22H71.19ZM72.19,989H73.2V987.66H72.19ZM73.2,989H74.2V987.66H73.2ZM74.2,989H75.21V988.55H74.2ZM75.21,989H76.21V987.66H75.21ZM76.21,989H77.21V986.77H76.21ZM77.21,989H78.22V988.55H77.21ZM78.22,989H79.22V987.66H78.22ZM80.22,989H81.23V988.55H80.22ZM82.23,989H83.23V987.22H82.23ZM83.23,989H84.24V988.11H83.23ZM84.24,989H85.24V986.77H84.24ZM85.24,989H86.24V986.77H85.24ZM86.24,989H87.25V987.22H86.24ZM88.25,989H89.25V987.22H88.25ZM89.25,989H90.26V986.77H89.25ZM90.26,989H91.26V986.32H90.26ZM91.26,989H92.26V988.11H91.26ZM92.26,989H93.27V986.77H92.26ZM93.27,989H94.27V987.22H93.27ZM94.27,989H95.28V987.22H94.27ZM95.28,989H96.28V984.98H95.28ZM96.28,989H97.28V986.77H96.28ZM97.28,989H98.29V985.88H97.28ZM98.29,989H99.29V984.98H98.29ZM99.29,989H100.29V986.32H99.29ZM100.29,989H101.3V985.88H100.29ZM101.3,989H102.3V985.43H101.3ZM102.3,989H103.3V985.43H102.3ZM103.3,989H104.31V987.22H103.3ZM104.31,989H105.31V985.43H104.31ZM105.31,989H106.31V983.65H105.31ZM106.31,989H107.32V987.22H106.31ZM107.32,989H108.32V984.09H107.32ZM108.32,989H109.32V984.98H108.32ZM109.32,989H110.33V985.88H109.32ZM110.33,989H111.33V982.31H110.33ZM111.33,989H112.33V984.09H111.33ZM112.33,989H113.34V986.32H112.33ZM113.34,989H114.34V984.54H113.34ZM114.34,989H115.35V983.65H114.34ZM115.35,989H116.35V984.98H115.35ZM116.35,989H117.35V983.65H116.35ZM117.35,989H118.36V984.54H117.35ZM118.36,989H119.36V983.2H118.36ZM119.36,989H120.36V981.86H119.36ZM120.36,989H121.37V984.98H120.36ZM121.37,989H122.37V983.65H121.37ZM122.37,989H123.37V984.54H122.37ZM123.37,989H124.38V983.65H123.37ZM124.38,989H125.38V985.43H124.38ZM125.38,989H126.38V984.09H125.38ZM126.38,989H127.39V983.65H126.38ZM127.39,989H128.39V981.41H127.39ZM128.39,989H129.39V980.97H128.39ZM129.39,989H130.4V984.98H129.39ZM130.4,989H131.4V983.65H130.4ZM131.4,989H132.4V980.97H131.4ZM132.4,989H133.41V985.43H132.4ZM133.41,989H134.41V982.75H133.41ZM134.41,989H135.42V981.86H134.41ZM135.42,989H136.42V979.18H135.42ZM136.42,989H137.42V980.08H136.42ZM137.42,989H138.43V981.41H137.42ZM138.43,989H139.43V981.41H138.43ZM139.43,989H140.43V980.97H139.43ZM140.43,989H141.44V976.95H140.43ZM141.44,989H142.44V980.97H141.44ZM142.44,989H143.44V980.08H142.44ZM143.44,989H144.45V978.74H143.44ZM144.45,989H145.45V979.18H144.45ZM145.45,989H146.45V979.18H145.45ZM146.45,989H147.46V980.52H146.45ZM147.46,989H148.46V977.85H147.46ZM148.46,989H149.46V978.29H148.46ZM149.46,989H150.47V974.28H149.46ZM150.47,989H151.47V974.72H150.47ZM151.47,989H152.47V976.06H151.47ZM152.47,989H153.48V973.38H152.47ZM153.48,989H154.48V975.61H153.48ZM154.48,989H155.49V971.15H154.48ZM155.49,989H156.49V973.38H155.49ZM156.49,989H157.49V971.15H156.49ZM157.49,989H158.5V975.61H157.49ZM158.5,989H159.5V970.26H158.5ZM159.5,989H160.5V975.17H159.5ZM160.5,989H161.51V975.61H160.5ZM161.51,989H162.51V970.26H161.51ZM162.51,989H163.51V971.15H162.51ZM163.51,989H164.52V967.58H163.51ZM164.52,989H165.52V960.44H164.52ZM165.52,989H166.52V969.37H165.52ZM166.52,989H167.53V968.03H166.52ZM167.53,989H168.53V964.46H167.53ZM168.53,989H169.53V963.12H168.53ZM169.53,989H170.54V964.46H169.53ZM170.54,989H171.54V964.01H170.54ZM171.54,989H172.54V960.44H171.54ZM172.54,989H173.55V960.44H172.54ZM173.55,989H174.55V965.35H173.55ZM174.55,989H175.56V961.34H174.55ZM175.56,989H176.56V960.44H175.56ZM176.56,989H177.56V964.01H176.56ZM177.56,989H178.57V958.66H177.56ZM178.57,989H179.57V962.23H178.57ZM179.57,989H180.57V955.09H179.57ZM180.57,989H181.58V957.32H180.57ZM181.58,989H182.58V957.32H181.58ZM182.58,989H183.58V959.1H182.58ZM183.58,989H184.59V956.43H183.58ZM184.59,989H185.59V962.67H184.59ZM185.59,989H186.59V958.66H185.59ZM186.59,989H187.6V951.52H186.59ZM187.6,989H188.6V960.44H187.6ZM188.6,989H189.6V947.06H188.6ZM189.6,989H190.61V956.43H189.6ZM190.61,989H191.61V944.38H190.61ZM191.61,989H192.61V950.18H191.61ZM192.61,989H193.62V941.7H192.61ZM193.62,989H194.62V943.04H193.62ZM194.62,989H195.63V948.84H194.62ZM195.63,989H196.63V934.56H195.63ZM196.63,989H197.63V931.89H196.63ZM197.63,989H198.64V937.24H197.63ZM198.64,989H199.64V936.35H198.64ZM199.64,989H200.64V934.12H199.64ZM200.64,989H201.65V936.35H200.64ZM201.65,989H202.65V923.41H201.65ZM202.65,989H203.65V930.1H202.65ZM203.65,989H204.66V925.64H203.65ZM204.66,989H205.66V927.87H204.66ZM205.66,989H206.66V925.19H205.66ZM206.66,989H207.67V927.42H206.66ZM207.67,989H208.67V912.25H207.67ZM208.67,989H209.67V918.95H208.67ZM209.67,989H210.68V911.81H209.67ZM210.68,989H211.68V915.82H210.68ZM211.68,989H212.68V918.5H211.68ZM212.68,989H213.69V914.48H212.68ZM213.69,989H214.69V913.59H213.69ZM214.69,989H215.7V907.35H214.69ZM215.7,989H216.7V906.45H215.7ZM216.7,989H217.7V902.88H216.7ZM217.7,989H218.71V906.45H217.7ZM218.71,989H219.71V899.76H218.71ZM219.71,989H220.71V880.57H219.71ZM220.71,989H221.72V892.62H220.71ZM221.72,989H222.72V892.17H221.72ZM222.72,989H223.72V880.13H222.72ZM223.72,989H224.73V869.86H223.72ZM224.73,989H225.73V887.71H224.73ZM225.73,989H226.73V876.56H225.73ZM226.73,989H227.74V877.9H226.73ZM227.74,989H228.74V884.14H227.74ZM228.74,989H229.74V863.62H228.74ZM229.74,989H230.75V867.19H229.74ZM230.75,989H231.75V864.51H230.75ZM231.75,989H232.75V868.53H231.75ZM232.75,989H233.76V857.37H232.75ZM233.76,989H234.76V863.17H233.76ZM234.76,989H235.77V858.26H234.76ZM235.77,989H236.77V863.62H235.77ZM236.77,989H237.77V862.28H236.77ZM237.77,989H238.78V840.42H237.77ZM238.78,989H239.78V852.91H238.78ZM239.78,989H240.78V844.43H239.78ZM240.78,989H241.79V844.88H240.78ZM241.79,989H242.79V846.22H241.79ZM242.79,989H243.79V844.43H242.79ZM243.79,989H244.8V832.83H243.79ZM244.8,989H245.8V838.18H244.8ZM245.8,989H246.8V834.61H245.8ZM246.8,989H247.81V831.05H246.8ZM247.81,989H248.81V819H247.81ZM248.81,989H249.81V820.78H248.81ZM249.81,989H250.82V821.23H249.81ZM250.82,989H251.82V827.48H250.82ZM251.82,989H252.82V832.38H251.82ZM252.82,989H253.83V810.07H252.82ZM253.83,989H254.83V807.84H253.83ZM254.83,989H255.84V815.43H254.83ZM255.84,989H256.84V807.4H255.84ZM256.84,989H257.84V803.38H256.84ZM257.84,989H258.85V801.15H257.84ZM258.85,989H259.85V798.47H258.85ZM259.85,989H260.85V809.18H259.85ZM260.85,989H261.86V789.1H260.85ZM261.86,989H262.86V812.75H261.86ZM262.86,989H263.86V791.78H262.86ZM263.86,989H264.87V793.12H263.86ZM264.87,989H265.87V787.76H264.87ZM265.87,989H266.87V776.61H265.87ZM266.87,989H267.88V777.95H266.87ZM267.88,989H268.88V800.7H267.88ZM268.88,989H269.88V803.38H268.88ZM269.88,989H270.89V777.5H269.88ZM270.89,989H271.89V792.67H270.89ZM271.89,989H272.89V780.62H271.89ZM272.89,989H273.9V770.36H272.89ZM273.9,989H274.9V792.67H273.9ZM274.9,989H275.91V794.9H274.9ZM275.91,989H276.91V769.92H275.91ZM276.91,989H277.91V770.36H276.91ZM277.91,989H278.92V771.25H277.91ZM278.92,989H279.92V766.35H278.92ZM279.92,989H280.92V773.49H279.92ZM280.92,989H281.93V778.39H280.92ZM281.93,989H282.93V762.78H281.93ZM282.93,989H283.93V769.47H282.93ZM283.93,989H284.94V774.38H283.93ZM284.94,989H285.94V751.18H284.94ZM285.94,989H286.94V755.64H285.94ZM286.94,989H287.95V749.39H286.94ZM287.95,989H288.95V762.33H287.95ZM288.95,989H289.95V757.42H288.95ZM289.95,989H290.96V760.1H289.95ZM290.96,989H291.96V757.42H290.96ZM291.96,989H292.96V745.37H291.96ZM292.96,989H293.97V754.3H292.96ZM293.97,989H294.97V741.36H293.97ZM294.97,989H295.98V740.47H294.97ZM295.98,989H296.98V723.96H295.98ZM296.98,989H297.98V756.98H296.98ZM297.98,989H298.99V731.99H297.98ZM298.99,989H299.99V741.81H298.99ZM299.99,989H300.99V740.02H299.99ZM300.99,989H302V754.3H300.99ZM302,989H303V743.59H302ZM303,989H304V730.2H303ZM304,989H305.01V738.68H304ZM305.01,989H306.01V736.9H305.01ZM306.01,989H307.01V740.91H306.01ZM307.01,989H308.02V725.74H307.01ZM308.02,989H309.02V738.24H308.02ZM309.02,989H310.02V760.99H309.02ZM310.02,989H311.03V744.93H310.02ZM311.03,989H312.03V758.76H311.03ZM312.03,989H313.03V772.59H312.03ZM313.03,989H314.04V744.48H313.03ZM314.04,989H315.04V725.74H314.04ZM315.04,989H316.05V740.47H315.04ZM316.05,989H317.05V754.3H316.05ZM317.05,989H318.05V752.96H317.05ZM318.05,989H319.06V732.88H318.05ZM319.06,989H320.06V744.04H319.06ZM320.06,989H321.06V746.71H320.06ZM321.06,989H322.07V749.39H321.06ZM322.07,989H323.07V750.28H322.07ZM323.07,989H324.07V744.04H323.07ZM324.07,989H325.08V748.05H324.07ZM325.08,989H326.08V753.41H325.08ZM326.08,989H327.08V768.13H326.08ZM327.08,989H328.09V754.3H327.08ZM328.09,989H329.09V768.58H328.09ZM329.09,989H330.09V752.51H329.09ZM330.09,989H331.1V778.39H330.09ZM331.1,989H332.1V769.02H331.1ZM332.1,989H333.1V769.92H332.1ZM333.1,989H334.11V785.09H333.1ZM334.11,989H335.11V757.87H334.11ZM335.11,989H336.12V763.22H335.11ZM336.12,989H337.12V785.09H336.12ZM337.12,989H338.12V776.16H337.12ZM338.12,989H339.13V783.3H338.12ZM339.13,989H340.13V814.54H339.13ZM340.13,989H341.13V790.44H340.13ZM341.13,989H342.14V795.8H341.13ZM342.14,989H343.14V796.69H342.14ZM343.14,989H344.14V809.63H343.14ZM344.14,989H345.15V804.72H344.14ZM345.15,989H346.15V806.5H345.15ZM346.15,989H347.15V796.69H346.15ZM347.15,989H348.16V806.95H347.15ZM348.16,989H349.16V812.3H348.16ZM349.16,989H350.16V801.15H349.16ZM350.16,989H351.17V822.12H350.16ZM351.17,989H352.17V823.46H351.17ZM352.17,989H353.17V838.18H352.17ZM353.17,989H354.18V811.86H353.17ZM354.18,989H355.18V819.44H354.18ZM355.18,989H356.19V822.57H355.18ZM356.19,989H357.19V827.48H356.19ZM357.19,989H358.19V835.06H357.19ZM358.19,989H359.2V837.29H358.19ZM359.2,989H360.2V844.43H359.2ZM360.2,989H361.2V848H360.2ZM361.2,989H362.21V849.34H361.2ZM362.21,989H363.21V841.75H362.21ZM363.21,989H364.21V852.46H363.21ZM364.21,989H365.22V859.6H364.21ZM365.22,989H366.22V865.85H365.22ZM366.22,989H367.22V868.53H366.22ZM367.22,989H368.23V854.25H367.22ZM368.23,989H369.23V864.51H368.23ZM369.23,989H370.23V869.86H369.23ZM370.23,989H371.24V874.77H370.23ZM371.24,989H372.24V882.36H371.24ZM372.24,989H373.24V877.45H372.24ZM373.24,989H374.25V872.99H373.24ZM374.25,989H375.25V884.14H374.25ZM375.25,989H376.26V885.04H375.25ZM376.26,989H377.26V887.27H376.26ZM377.26,989H378.26V887.27H377.26ZM378.26,989H379.27V900.65H378.26ZM379.27,989H380.27V893.51H379.27ZM380.27,989H381.27V899.76H380.27ZM381.27,989H382.28V890.39H381.27ZM382.28,989H383.28V903.33H382.28ZM383.28,989H384.28V897.08H383.28ZM384.28,989H385.29V893.51H384.28ZM385.29,989H386.29V907.79H385.29ZM386.29,989H387.29V912.7H386.29ZM387.29,989H388.3V910.91H387.29ZM388.3,989H389.3V914.48H388.3ZM389.3,989H390.3V922.07H389.3ZM390.3,989H391.31V915.82H390.3ZM391.31,989H392.31V909.13H391.31ZM392.31,989H393.31V923.41H392.31ZM393.31,989H394.32V924.75H393.31ZM394.32,989H395.32V930.55H394.32ZM395.32,989H396.33V925.19H395.32ZM396.33,989H397.33V934.56H396.33ZM397.33,989H398.33V935.46H397.33ZM398.33,989H399.34V924.75H398.33ZM399.34,989H400.34V937.24H399.34ZM400.34,989H401.34V928.76H400.34ZM401.34,989H402.35V928.32H401.34ZM402.35,989H403.35V935.9H402.35ZM403.35,989H404.35V935.9H403.35ZM404.35,989H405.36V930.55H404.35ZM405.36,989H406.36V942.15H405.36ZM406.36,989H407.36V945.27H406.36ZM407.36,989H408.37V950.18H407.36ZM408.37,989H409.37V944.83H408.37ZM409.37,989H410.37V939.92H409.37ZM410.37,989H411.38V943.49H410.37ZM411.38,989H412.38V952.86H411.38ZM412.38,989H413.38V953.3H412.38ZM413.38,989H414.39V953.3H413.38ZM414.39,989H415.39V951.07H414.39ZM415.39,989H416.4V953.75H415.39ZM416.4,989H417.4V953.3H416.4ZM417.4,989H418.4V953.75H417.4ZM418.4,989H419.41V957.32H418.4ZM419.41,989H420.41V956.87H419.41ZM420.41,989H421.41V956.87H420.41ZM421.41,989H422.42V959.1H421.41ZM422.42,989H423.42V957.77H422.42ZM423.42,989H424.42V953.75H423.42ZM424.42,989H425.43V959.1H424.42ZM425.43,989H426.43V961.78H425.43ZM426.43,989H427.43V968.47H426.43ZM427.43,989H428.44V962.23H427.43ZM428.44,989H429.44V970.71H428.44ZM429.44,989H430.44V969.81H429.44ZM430.44,989H431.45V963.12H430.44ZM431.45,989H432.45V964.46H431.45ZM432.45,989H433.45V968.03H432.45ZM433.45,989H434.46V973.38H433.45ZM434.46,989H435.46V970.26H434.46ZM435.46,989H436.47V972.04H435.46ZM436.47,989H437.47V968.92H436.47ZM437.47,989H438.47V964.91H437.47ZM438.47,989H439.48V971.15H438.47ZM439.48,989H440.48V974.28H439.48ZM440.48,989H441.48V976.06H440.48ZM441.48,989H442.49V973.38H441.48ZM442.49,989H443.49V974.28H442.49ZM443.49,989H444.49V976.95H443.49ZM444.49,989H445.5V974.28H444.49ZM445.5,989H446.5V977.85H445.5ZM446.5,989H447.5V972.49H446.5ZM447.5,989H448.51V972.94H447.5ZM448.51,989H449.51V973.38H448.51ZM449.51,989H450.51V977.4H449.51ZM450.51,989H451.52V975.61H450.51ZM451.52,989H452.52V977.4H451.52ZM452.52,989H453.52V978.74H452.52ZM453.52,989H454.53V978.74H453.52ZM454.53,989H455.53V981.41H454.53ZM455.53,989H456.54V981.86H455.53ZM456.54,989H457.54V977.4H456.54ZM457.54,989H458.54V979.63H457.54ZM458.54,989H459.55V979.18H458.54ZM459.55,989H460.55V977.85H459.55ZM460.55,989H461.55V983.65H460.55ZM461.55,989H462.56V981.86H461.55ZM462.56,989H463.56V980.08H462.56ZM463.56,989H464.56V980.08H463.56ZM464.56,989H465.57V981.86H464.56ZM465.57,989H466.57V979.18H465.57ZM466.57,989H467.57V980.97H466.57ZM467.57,989H468.58V984.09H467.57ZM468.58,989H469.58V983.65H468.58ZM469.58,989H470.58V980.97H469.58ZM470.58,989H471.59V981.86H470.58ZM471.59,989H472.59V985.88H471.59ZM472.59,989H473.59V980.97H472.59ZM473.59,989H474.6V982.31H473.59ZM474.6,989H475.6V981.41H474.6ZM475.6,989H476.61V984.09H475.6ZM476.61,989H477.61V984.09H476.61ZM477.61,989H478.61V985.43H477.61ZM478.61,989H479.62V980.52H478.61ZM479.62,989H480.62V984.54H479.62ZM480.62,989H481.62V982.31H480.62ZM481.62,989H482.63V985.43H481.62ZM482.63,989H483.63V984.54H482.63ZM483.63,989H484.63V987.22H483.63ZM484.63,989H485.64V985.43H484.63ZM485.64,989H486.64V984.09H485.64ZM486.64,989H487.64V987.22H486.64ZM487.64,989H488.65V984.09H487.64ZM488.65,989H489.65V985.43H488.65ZM489.65,989H490.65V987.22H489.65ZM490.65,989H491.66V986.77H490.65ZM491.66,989H492.66V986.77H491.66ZM492.66,989H493.66V986.32H492.66ZM493.66,989H494.67V986.77H493.66ZM494.67,989H495.67V987.22H494.67ZM495.67,989H496.68V986.77H495.67ZM496.68,989H497.68V987.66H496.68ZM497.68,989H498.68V988.11H497.68ZM498.68,989H499.69V986.77H498.68ZM499.69,989H500.69V985.88H499.69ZM500.69,989H501.69V988.11H500.69ZM501.69,989H502.7V986.77H501.69ZM502.7,989H503.7V987.66H502.7ZM503.7,989H504.7V988.11H503.7ZM504.7,989H505.71V986.32H504.7ZM505.71,989H506.71V987.66H505.71ZM506.71,989H507.71V985.88H506.71ZM507.71,989H508.72V988.11H507.71ZM508.72,989H509.72V986.77H508.72ZM509.72,989H510.72V987.66H509.72ZM510.72,989H511.73V988.11H510.72ZM511.73,989H512.73V986.77H511.73ZM512.73,989H513.73V987.66H512.73ZM513.73,989H514.74V987.22H513.73ZM514.74,989H515.74V987.66H514.74ZM515.74,989H516.75V988.55H515.74ZM516.75,989H517.75V987.66H516.75ZM517.75,989H518.75V987.66H517.75ZM518.75,989H519.76V986.77H518.75ZM519.76,989H520.76V988.55H519.76ZM520.76,989H521.76V987.66H520.76ZM522.77,989H523.77V987.22H522.77ZM523.77,989H524.77V988.55H523.77ZM525.78,989H526.78V988.11H525.78ZM526.78,989H527.78V987.22H526.78ZM528.79,989H529.79V988.55H528.79ZM529.79,989H530.79V988.55H529.79ZM530.79,989H531.8V988.55H530.79ZM531.8,989H532.8V987.66H531.8ZM532.8,989H533.8V988.55H532.8ZM533.8,989H534.81V988.55H533.8ZM534.81,989H535.81V987.66H534.81ZM535.81,989H536.82V988.55H535.81Z" fill="#ffb2b2"/>
<line x1="301.2" y1="989" x2="301.2" y2="710.6" stroke="#f00" stroke-width="2.44" stroke-dasharray="9.06,3.92"/>
</g>
<rect x="73.75" y="710.6" width="473.65" height="278.4" fill="none" stroke="#000" stroke-width="1.3"/>
<line x1="68.06" y1="989" x2="73.75" y2="989" stroke="#000" stroke-width="1.3"/>
<text x="62.57" y="994.75" font-size="16.25" text-anchor="end">0</text>
<line x1="68.06" y1="944.38" x2="73.75" y2="944.38" stroke="#000" stroke-width="1.3"/>
<text x="62.57" y="950.13" font-size="16.25" text-anchor="end">100</text>
<line x1="68.06" y1="899.76" x2="73.75" y2="899.76" stroke="#000" stroke-width="1.3"/>
<text x="62.57" y="905.51" font-size="16.25" text-anchor="end">200</text>
<line x1="68.06" y1="855.14" x2="73.75" y2="855.14" stroke="#000" stroke-width="1.3"/>
<text x="62.57" y="860.89" font-size="16.25" text-anchor="end">300</text>
<line x1="68.06" y1="810.52" x2="73.75" y2="810.52" stroke="#000" stroke-width="1.3"/>
<text x="62.57" y="816.27" font-size="16.25" text-anchor="end">400</text>
<line x1="68.06" y1="765.9" x2="73.75" y2="765.9" stroke="#000" stroke-width="1.3"/>
<text x="62.57" y="771.65" font-size="16.25" text-anchor="end">500</text>
<line x1="68.06" y1="721.28" x2="73.75" y2="721.28" stroke="#000" stroke-width="1.3"/>
<text x="62.57" y="727.03" font-size="16.25" text-anchor="end">600</text>
<line x1="73.7" y1="989" x2="73.7" y2="994.69" stroke="#000" stroke-width="1.3"/>
<text x="73.7" y="1012.1" font-size="16.25" text-anchor="middle">0.90</text>
<line x1="129.45" y1="989" x2="129.45" y2="994.69" stroke="#000" stroke-width="1.3"/>
<text x="129.45" y="1012.1" font-size="16.25" text-anchor="middle">0.92</text>
<line x1="185.2" y1="989" x2="185.2" y2="994.69" stroke="#000" stroke-width="1.3"/>
<text x="185.2" y="1012.1" font-size="16.25" text-anchor="middle">0.94</text>
<line x1="240.95" y1="989" x2="240.95" y2="994.69" stroke="#000" stroke-width="1.3"/>
<text x="240.95" y="1012.1" font-size="16.25" text-anchor="middle">0.96</text>
<line x1="296.7" y1="989" x2="296.7" y2="994.69" stroke="#000" stroke-width="1.3"/>
<text x="296.7" y="1012.1" font-size="16.25" text-anchor="middle">0.98</text>
<line x1="352.45" y1="989" x2="352.45" y2="994.69" stroke="#000" stroke-width="1.3"/>
<text x="352.45" y="1012.1" font-size="16.25" text-anchor="middle">1.00</text>
<line x1="408.2" y1="989" x2="408.2" y2="994.69" stroke="#000" stroke-width="1.3"/>
<text x="408.2" y="1012.1" font-size="16.25" text-anchor="middle">1.02</text>
<line x1="463.95" y1="989" x2="463.95" y2="994.69" stroke="#000" stroke-width="1.3"/>
<text x="463.95" y="1012.1" font-size="16.25" text-anchor="middle">1.04</text>
<line x1="519.7" y1="989" x2="519.7" y2="994.69" stroke="#000" stroke-width="1.3"/>
<text x="519.7" y="1012.1" font-size="16.25" text-anchor="middle">1.06</text>
<text x="310.6" y="1033.7" font-size="16.35" text-anchor="middle">Radiance ratio (AHI-LIR / MERTIS-LIR)</text>
<text x="0" y="0" font-size="16.35" text-anchor="middle" transform="translate(24.5,850.1) rotate(-90)">The number of data</text>
<text x="0.9" y="715.3" font-size="22.75" text-anchor="start">(c)</text>
<rect x="558.3" y="716.4" width="106.4" height="41.4" rx="2.6" ry="2.6" fill="#fff" stroke="#000" stroke-width="1.625"/>
<rect x="564" y="722.1" width="26" height="9.1" fill="#ffb2b2"/>
<text x="601" y="731.45" font-size="13" text-anchor="start">Histogram</text>
<line x1="564" y1="745.4" x2="590" y2="745.4" stroke="#f00" stroke-width="2.44" stroke-dasharray="9.06,3.92"/>
<text x="601" y="750.15" font-size="13" text-anchor="start">Mean</text></svg>
</body></html>
